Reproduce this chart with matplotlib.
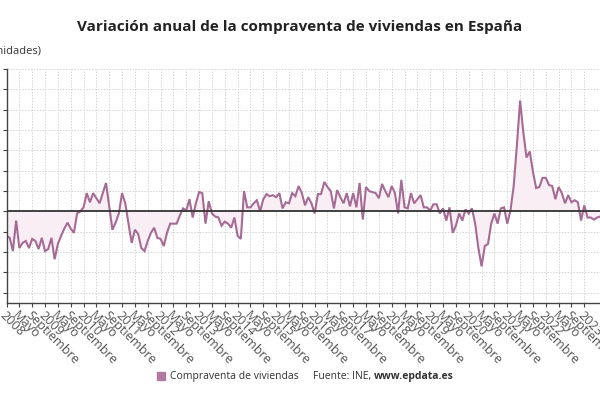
import matplotlib
matplotlib.use("Agg")
import matplotlib.pyplot as plt
from matplotlib.patches import Rectangle

plt.rcParams['font.family'] = ['Open Sans', 'DejaVu Sans']

# Monthly data from January 2008 (annual variation, %)
start_year = 2008
values = [
    -24, -26, -39, -9, -36, -31, -29, -36, -27, -29, -37, -26,      # 2008
    -39, -37, -26, -47, -32, -24, -17, -11, -17, -21, -2, 0,        # 2009
    4, 18, 9, 18, 13, 8, 18, 28, 5, -18, -11, -2,                   # 2010
    18, 8, -12, -31, -18, -22, -36, -39, -29, -21, -16, -26,        # 2011
    -27, -34, -21, -12, -12, -12, -4, 3, 1, 12, -6, 8,              # 2012
    19, 18, -12, 10, -2, -5, -6, -14, -10, -12, -16, -6,            # 2013
    -24, -27, 20, 4, 4, 8, 11, 0, 12, 17, 15, 16,                   # 2014
    14, 18, 3, 9, 8, 18, 15, 25, 18, 6, 14, 8,                      # 2015
    -2, 17, 17, 29, 24, 20, 3, 21, 14, 8, 18, 5,                    # 2016
    18, 4, 28, -8, 24, 20, 19, 18, 13, 27, 20, 14,                  # 2017
    25, 18, -2, 31, 4, 3, 18, 8, 12, 16, 4, 4,                      # 2018
    1, 7, 7, -2, 3, -9, 4, -21, -14, -2, -9, 2,                     # 2019
    -2, 3, -12, -36, -54, -34, -32, -12, -2, -12, 3, 4,             # 2020
    -12, 1, 25, 65, 109, 78, 53, 59, 39, 23, 24, 33,                # 2021
    33, 26, 25, 12, 24, 18, 8, 16, 9, 11, 9, -9,                    # 2022
    6, -6, -6, -8, -6, -5,                                          # 2023
]
tick_month_names = ["Mayo", "Septiembre"]
series_name = "Compraventa de viviendas"
title = "Variación anual de la compraventa de viviendas en España"
subtitle = "Variación anual (%, unidades)"
source_plain = "Fuente: INE,"
source_bold = "www.epdata.es"

line_color = "#a66b95"
fill_color = "#f9eef4"
text_color = "#333333"

x = list(range(len(values)))

W, H = 600, 400
fig = plt.figure(figsize=(6, 4), dpi=100)
fig.patch.set_facecolor("white")

px_per_month = 3.21
x_left_px = 6.5
xmax = 186
ax_w_px = xmax * px_per_month
ax = fig.add_axes([x_left_px / W, (H - 303) / H, ax_w_px / W, (303 - 69) / H])

ax.fill_between(x, values, 0, color=fill_color, lw=0)
ax.plot(x, values, color=line_color, lw=1.5, solid_joinstyle="miter")
ax.axhline(0, color="#333333", lw=1.3, zorder=3)

ax.set_xlim(0, xmax)
ax.set_ylim(-90, 140)

# ticks every 4 months
tick_pos = []
tick_lab = []
for m in range(0, 181, 4):
    tick_pos.append(m)
    k = (m % 12) // 4
    if k == 0:
        tick_lab.append(str(start_year + m // 12))
    else:
        tick_lab.append(tick_month_names[k - 1])
ax.set_xticks(tick_pos)
ax.set_xticklabels(tick_lab, rotation=-45, ha="left", va="top",
                   rotation_mode="anchor", fontsize=9.2, color="#555555")
ax.set_yticks(range(-80, 141, 20))
ax.tick_params(axis="y", labelleft=False, direction="out", length=3,
               color="#444444", width=0.8)
ax.tick_params(axis="x", direction="out", length=3, color="#444444",
               width=0.8, pad=1)

ax.grid(True, color="#d4d4d4", linestyle=(0, (1.5, 1.5)), lw=0.7)
ax.set_axisbelow(True)
for s in ["top", "right"]:
    ax.spines[s].set_visible(False)
for s in ["left", "bottom"]:
    ax.spines[s].set_color("#444444")
    ax.spines[s].set_linewidth(1.0)

fig.text(0.5, (H - 27) / H, title, ha="center", va="center",
         fontsize=11, fontweight="bold", color="#222222")
fig.text(41 / W, (H - 51) / H, subtitle, ha="right", va="center",
         fontsize=8, color=text_color)

# legend / source
ly = (H - 376) / H
fig.patches.append(Rectangle((157 / W, (H - 380) / H), 8 / W, 8 / H,
                             transform=fig.transFigure, color="#b07aa0",
                             figure=fig))
fig.text(170 / W, ly, series_name, ha="left", va="center",
         fontsize=7.5, color=text_color)
t1 = fig.text(313 / W, ly, source_plain, ha="left", va="center",
              fontsize=7.5, color=text_color)
fig.canvas.draw()
bb = t1.get_window_extent()
fig.text((bb.x1 + 3) / W, ly, source_bold, ha="left", va="center",
         fontsize=7.5, fontweight="bold", color=text_color)

fig.savefig("out.png", dpi=100)
